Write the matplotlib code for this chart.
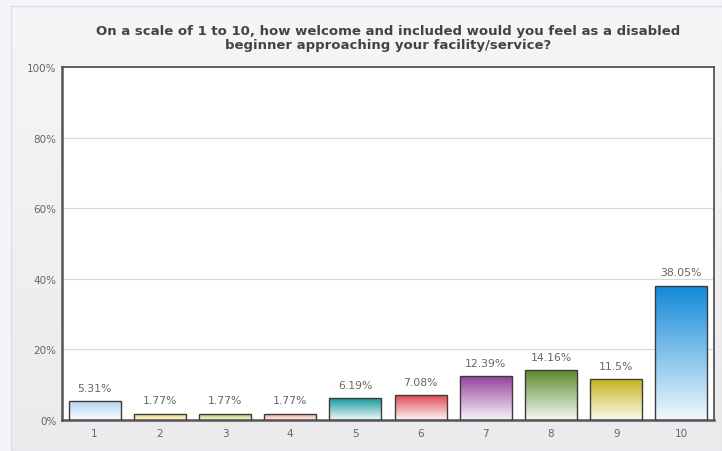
import matplotlib
matplotlib.use("Agg")
import matplotlib.pyplot as plt
import numpy as np
from matplotlib.colors import to_rgb

title = "On a scale of 1 to 10, how welcome and included would you feel as a disabled\nbeginner approaching your facility/service?"
categories = ["1", "2", "3", "4", "5", "6", "7", "8", "9", "10"]
values = [5.31, 1.77, 1.77, 1.77, 6.19, 7.08, 12.39, 14.16, 11.5, 38.05]
value_labels = ["5.31%", "1.77%", "1.77%", "1.77%", "6.19%", "7.08%", "12.39%", "14.16%", "11.5%", "38.05%"]
bar_colors = ["#b4d6f4", "#f2c64a", "#9cc43c", "#f49476", "#14979b",
              "#e04a52", "#93439b", "#5b8a2c", "#c6b21a", "#1189d8"]
y_ticks = [0, 20, 40, 60, 80, 100]
y_tick_labels = ["0%", "20%", "40%", "60%", "80%", "100%"]

W, H = 722, 452
fig = plt.figure(figsize=(W / 100, H / 100), dpi=100)
fig.patch.set_facecolor("#f3f5fa")

# panel background with vertical gradient
bg = fig.add_axes([11 / W, 0, 1 - 11 / W, 1 - 7 / H])
bg.set_zorder(0)
ptop = np.array(to_rgb("#f7f5f8"))
pbot = np.array(to_rgb("#ebeaed"))
tt = np.linspace(0, 1, 200)[:, None]
pg = (ptop[None, :] * (1 - tt) + pbot[None, :] * tt)[:, None, :]
bg.imshow(pg, extent=[0, 1, 0, 1], aspect="auto", origin="upper", interpolation="bilinear")
bg.set_xlim(0, 1)
bg.set_ylim(0, 1)
bg.set_xticks([])
bg.set_yticks([])
for s in bg.spines.values():
    s.set_color("#dcdce4")
    s.set_linewidth(1.0)

ax = fig.add_axes([62 / W, 1 - 421 / H, (714 - 62) / W, (421 - 68) / H])
ax.set_zorder(1)
ax.set_facecolor("white")

x = np.arange(1, len(categories) + 1)
bars = ax.bar(x, values, width=0.8, color="none", edgecolor="#3c3c3c", linewidth=1.0, zorder=3)

for b, c in zip(bars, bar_colors):
    top = np.array(to_rgb(c))
    bot = top * 0.06 + np.ones(3) * 0.94
    n = 100
    t = np.linspace(0, 1, n)[:, None]  # 0 at top row
    grad = top[None, :] * (1 - t) + bot[None, :] * t
    img = grad[:, None, :]
    bx, by = b.get_x(), b.get_y()
    bw, bh = b.get_width(), b.get_height()
    im = ax.imshow(img, extent=[bx, bx + bw, by, by + bh], aspect="auto",
                   origin="upper", zorder=2, interpolation="bilinear")
    im.set_clip_path(b)

for xi, v, lab in zip(x, values, value_labels):
    ax.annotate(lab, (xi, v), xytext=(0, 6), textcoords="offset points",
                ha="center", va="bottom", fontsize=7.8, color="#666666")

ax.set_xlim(0.5, len(categories) + 0.5)
ax.set_ylim(0, 100)
ax.set_yticks(y_ticks)
ax.set_yticklabels(y_tick_labels)
ax.set_xticks(x)
ax.set_xticklabels(categories)
ax.tick_params(axis="both", length=0, labelsize=7.5, labelcolor="#666666")
ax.tick_params(axis="x", pad=5.5)
ax.tick_params(axis="y", pad=4)
ax.grid(axis="y", color="#d8d8d8", linewidth=0.8, zorder=1)
ax.set_axisbelow(True)
for s in ax.spines.values():
    s.set_color("#555555")
    s.set_linewidth(1.3)
ax.spines["left"].set_linewidth(1.8)
ax.spines["bottom"].set_linewidth(1.8)

ax.set_title(title, fontsize=9.5, fontweight="bold", color="#444444", pad=14, linespacing=1.05)

fig.savefig("out.png", dpi=100, facecolor=fig.get_facecolor())
